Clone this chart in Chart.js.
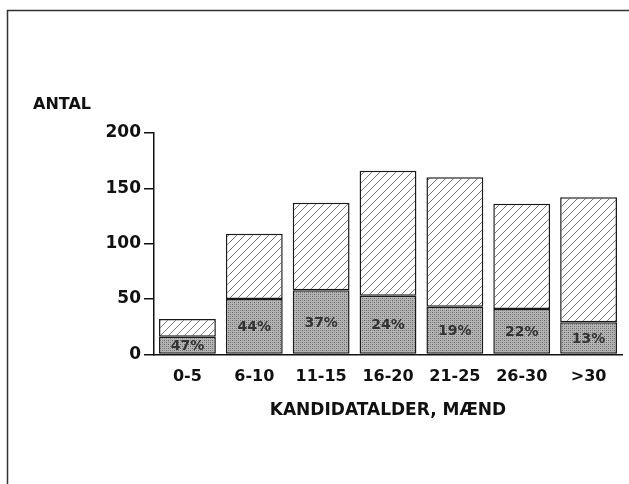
<!DOCTYPE html>
<html>
<head>
<meta charset="utf-8">
<script src="https://cdn.jsdelivr.net/npm/chart.js@4"></script>
<style>
  html, body { margin: 0; padding: 0; background: #fff; }
  #wrap { width: 629px; height: 484px; position: relative; }
</style>
</head>
<body>
<div id="wrap"><canvas id="myChart" width="629" height="484"></canvas></div>
<script>
"use strict";
const labels = ["0-5", "6-10", "11-15", "16-20", "21-25", "26-30", ">30"];
const lowerValues = [16, 50, 58, 53, 43, 41, 29];
const upperValues = [16, 59, 79, 113, 117, 95, 113];
const percentLabels = ["47%", "44%", "37%", "24%", "19%", "22%", "13%"];
const yTicks = [0, 50, 100, 150, 200];

const FONT = "'DejaVu Sans', sans-serif";
const ctx = document.getElementById("myChart").getContext("2d");

function makeHatch() {
  const c = document.createElement("canvas");
  c.width = 8;
  c.height = 8;
  const g = c.getContext("2d");
  g.fillStyle = "#fff";
  g.fillRect(0, 0, 8, 8);
  g.strokeStyle = "#555";
  g.lineWidth = 0.8;
  g.beginPath();
  g.moveTo(-1, 9);
  g.lineTo(9, -1);
  g.moveTo(-1, 1);
  g.lineTo(1, -1);
  g.moveTo(7, 9);
  g.lineTo(9, 7);
  g.stroke();
  return ctx.createPattern(c, "repeat");
}

function makeStipple() {
  const c = document.createElement("canvas");
  c.width = 4;
  c.height = 4;
  const g = c.getContext("2d");
  g.fillStyle = "#b4b4b4";
  g.fillRect(0, 0, 4, 4);
  g.fillStyle = "#666";
  g.fillRect(0, 0, 1, 1);
  g.fillRect(2, 2, 1, 1);
  g.fillStyle = "#888";
  g.fillRect(2, 0, 1, 1);
  g.fillRect(0, 2, 1, 1);
  return ctx.createPattern(c, "repeat");
}

const framePlugin = {
  id: "frame",
  afterDraw(chart) {
    const c = chart.ctx;
    c.save();
    c.strokeStyle = "#333";
    c.lineWidth = 1.5;
    c.beginPath();
    c.moveTo(7.5, 484);
    c.lineTo(7.5, 10.5);
    c.lineTo(629, 10.5);
    c.stroke();
    c.fillStyle = "#111";
    c.font = "bold 16px " + FONT;
    c.textBaseline = "middle";
    c.fillText("ANTAL", 33, 105);
    // percentages inside the lower bars
    const meta = chart.getDatasetMeta(0);
    c.font = "bold 14px " + FONT;
    c.fillStyle = "#333";
    c.textAlign = "center";
    meta.data.forEach(function (bar, i) {
      c.fillText(percentLabels[i], bar.x, (bar.y + bar.base) / 2 + 1);
    });
    c.restore();
  },
};

const data = {
  labels: labels,
  datasets: [
    {
      label: "lower",
      data: lowerValues,
      backgroundColor: makeStipple(),
      borderColor: "#1a1a1a",
      borderWidth: 1.5,
      borderSkipped: false,
    },
    {
      label: "upper",
      data: upperValues,
      backgroundColor: makeHatch(),
      borderColor: "#1a1a1a",
      borderWidth: 1.5,
      borderSkipped: false,
    },
  ],
};

const config = {
  type: "bar",
  data: data,
  plugins: [framePlugin],
  options: {
    responsive: false,
    animation: false,
    barPercentage: 0.85,
    categoryPercentage: 1,
    layout: { padding: { left: 94, right: 7, top: 133, bottom: 63 } },
    plugins: { legend: { display: false }, tooltip: { enabled: false } },
    scales: {
      x: {
        stacked: true,
        grid: { display: false },
        border: { display: true, color: "#111", width: 1.5 },
        ticks: {
          color: "#111",
          font: { family: FONT, weight: "bold", size: 16 },
          padding: 5,
        },
        title: {
          display: true,
          text: "KANDIDATALDER, MÆND",
          color: "#111",
          font: { family: FONT, weight: "bold", size: 17 },
          padding: { top: 9, bottom: 0 },
        },
      },
      y: {
        stacked: true,
        min: 0,
        max: 200,
        afterBuildTicks: function (s) {
          s.ticks = yTicks.map(function (v) {
            return { value: v };
          });
        },
        grid: {
          drawOnChartArea: false,
          tickLength: 10,
          color: "#111",
          lineWidth: 1.5,
        },
        border: { display: true, color: "#111", width: 1.5 },
        ticks: {
          color: "#111",
          font: { family: FONT, weight: "bold", size: 17 },
          padding: 3,
        },
        afterFit: function (s) {
          s.width = 60;
        },
      },
    },
  },
};

const myChart = new Chart(ctx, config);
</script>
</body>
</html>
